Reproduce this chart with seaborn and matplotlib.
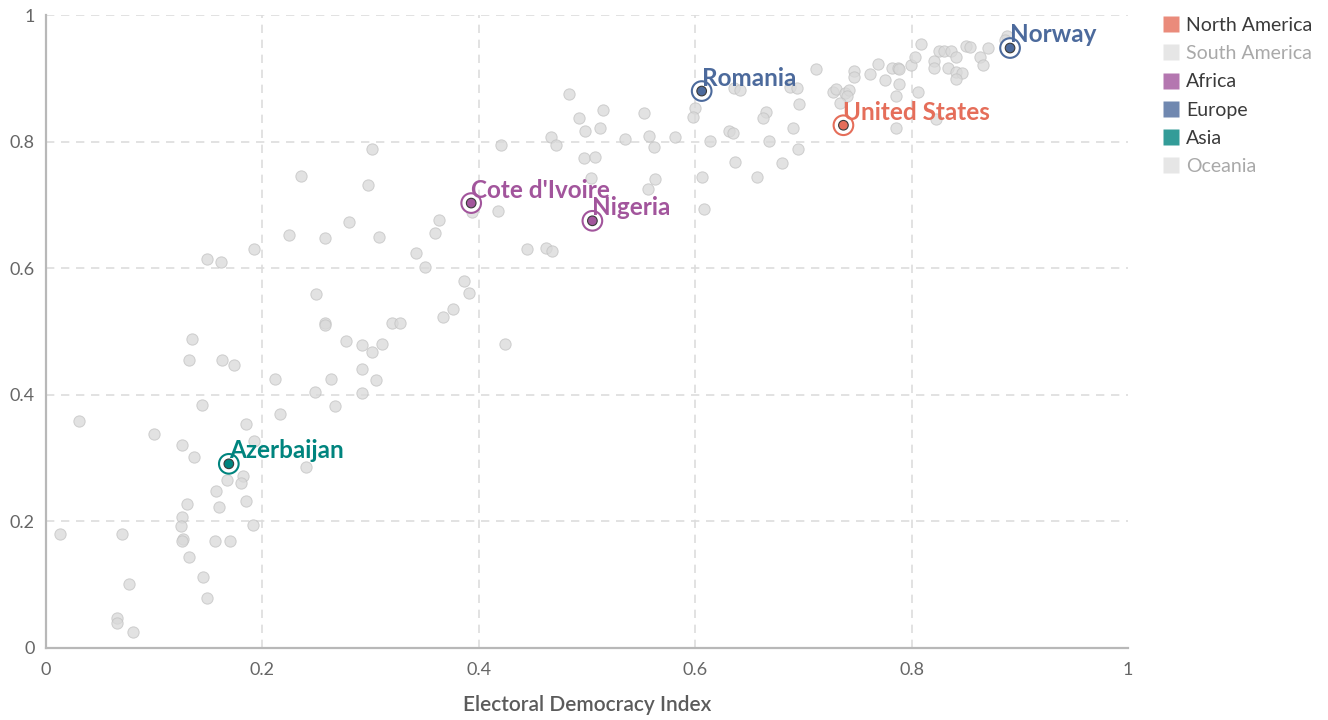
import matplotlib
matplotlib.use("Agg")
import matplotlib.pyplot as plt
from matplotlib.lines import Line2D
import pandas as pd
import seaborn as sns

# ── data ────────────────────────────────────────────────────
# x = Electoral Democracy Index, y = the other index (unlabelled axis)
grey_x = [
    0.013, 0.031, 0.066, 0.066, 0.070, 0.077, 0.080, 0.100, 0.126, 0.137,
    0.144, 0.130, 0.126, 0.125, 0.127, 0.126, 0.132, 0.145, 0.149, 0.156,
    0.170, 0.160, 0.157, 0.167, 0.182, 0.180, 0.185, 0.191, 0.185, 0.216,
    0.240, 0.249, 0.212, 0.263, 0.267, 0.292, 0.292, 0.305, 0.135, 0.132,
    0.163, 0.174, 0.277, 0.292, 0.301, 0.311, 0.250, 0.258, 0.258, 0.320,
    0.327, 0.192, 0.149, 0.162, 0.225, 0.258, 0.308, 0.280, 0.236, 0.298,
    0.301, 0.342, 0.350, 0.360, 0.363, 0.367, 0.376, 0.386, 0.391, 0.424,
    0.445, 0.462, 0.468, 0.394, 0.418, 0.421, 0.467, 0.471, 0.483, 0.493,
    0.498, 0.512, 0.515, 0.497, 0.507, 0.504, 0.535, 0.557, 0.562, 0.581,
    0.553, 0.563, 0.556, 0.600, 0.598, 0.606, 0.608, 0.614, 0.631, 0.635,
    0.637, 0.636, 0.641, 0.665, 0.663, 0.668, 0.657, 0.680, 0.690, 0.695,
    0.688, 0.694, 0.696, 0.712, 0.727, 0.730, 0.738, 0.742, 0.740, 0.734,
    0.747, 0.747, 0.762, 0.769, 0.775, 0.782, 0.787, 0.788, 0.788, 0.786,
    0.786, 0.799, 0.803, 0.806, 0.809, 0.823, 0.821, 0.821, 0.825, 0.830,
    0.836, 0.834, 0.841, 0.841, 0.847, 0.841, 0.850, 0.854, 0.863, 0.866,
    0.871, 0.888, 0.886, 0.192,
]
grey_y = [
    0.180, 0.359, 0.047, 0.039, 0.180, 0.101, 0.025, 0.338, 0.321, 0.302,
    0.384, 0.227, 0.207, 0.193, 0.172, 0.169, 0.144, 0.112, 0.079, 0.169,
    0.169, 0.223, 0.248, 0.265, 0.272, 0.261, 0.232, 0.194, 0.354, 0.370,
    0.286, 0.404, 0.425, 0.425, 0.382, 0.403, 0.441, 0.423, 0.488, 0.455,
    0.455, 0.447, 0.485, 0.479, 0.468, 0.480, 0.559, 0.513, 0.510, 0.513,
    0.513, 0.630, 0.615, 0.610, 0.652, 0.648, 0.649, 0.673, 0.746, 0.731,
    0.788, 0.624, 0.602, 0.656, 0.676, 0.523, 0.536, 0.580, 0.561, 0.480,
    0.630, 0.632, 0.627, 0.689, 0.690, 0.795, 0.807, 0.795, 0.875, 0.837,
    0.817, 0.821, 0.850, 0.774, 0.776, 0.742, 0.804, 0.809, 0.791, 0.807,
    0.845, 0.741, 0.725, 0.853, 0.839, 0.744, 0.694, 0.801, 0.817, 0.814,
    0.768, 0.885, 0.882, 0.847, 0.837, 0.801, 0.744, 0.766, 0.821, 0.788,
    0.886, 0.885, 0.859, 0.915, 0.878, 0.883, 0.877, 0.882, 0.872, 0.861,
    0.912, 0.902, 0.907, 0.923, 0.897, 0.916, 0.916, 0.915, 0.891, 0.872,
    0.821, 0.921, 0.934, 0.878, 0.954, 0.836, 0.927, 0.916, 0.943, 0.943,
    0.943, 0.916, 0.934, 0.910, 0.908, 0.899, 0.951, 0.949, 0.934, 0.921,
    0.948, 0.967, 0.961, 0.327,
]

hl_names = ["Norway", "Romania", "United States", "Cote d'Ivoire", "Nigeria", "Azerbaijan"]
hl_continent = ["Europe", "Europe", "North America", "Africa", "Africa", "Asia"]
hl_x = [0.891, 0.606, 0.737, 0.393, 0.505, 0.169]
hl_y = [0.948, 0.880, 0.826, 0.703, 0.675, 0.291]

continents = ["North America", "South America", "Africa", "Europe", "Asia", "Oceania"]
continent_active = [True, False, True, True, True, False]
palette = {
    "North America": "#E56E5A",
    "South America": "#9A5129",
    "Africa": "#A2559C",
    "Europe": "#4C6A9C",
    "Asia": "#00847E",
    "Oceania": "#B13507",
}

xticks = [0, 0.2, 0.4, 0.6, 0.8, 1]
xtick_labels = ["0", "0.2", "0.4", "0.6", "0.8", "1"]
yticks = [0, 0.2, 0.4, 0.6, 0.8, 1]
ytick_labels = ["0", "0.2", "0.4", "0.6", "0.8", "1"]

grey_df = pd.DataFrame({"edi": grey_x, "val": grey_y})
hl_df = pd.DataFrame({"name": hl_names, "continent": hl_continent, "edi": hl_x, "val": hl_y})

# ── style ───────────────────────────────────────────────────
sns.set_style("white")
plt.rcParams["font.family"] = ["Lato", "DejaVu Sans"]

fig = plt.figure(figsize=(13.28, 7.2), dpi=100)
ax = fig.add_axes([0.0346, 0.1, 0.8148, 0.879])

# background countries
sns.scatterplot(data=grey_df, x="edi", y="val", ax=ax, s=66,
                color="#d9d9d9", edgecolor="#c2c2c2", linewidth=0.7,
                alpha=0.75, legend=False, zorder=3)

# highlighted countries: ring + dot
sns.scatterplot(data=hl_df, x="edi", y="val", hue="continent", palette=palette,
                ax=ax, s=200, marker="o", linewidth=1.5,
                legend=False, zorder=4)
# seaborn fills the markers, turn this layer into open rings
ring = ax.collections[-1]
ring.set_facecolor("white")
ring.set_edgecolor([palette[c] for c in hl_continent])
sns.scatterplot(data=hl_df, x="edi", y="val", hue="continent", palette=palette,
                ax=ax, s=48, edgecolor="#3a3a3a", linewidth=0.8,
                legend=False, zorder=5)

for name, cont, x, y in zip(hl_names, hl_continent, hl_x, hl_y):
    ax.annotate(name, (x, y), xytext=(0, 4), textcoords="offset points",
                ha="left", va="baseline", fontsize=17.5, fontweight="bold",
                color=palette[cont], zorder=6)

# axes
ax.set_xlim(0, 1)
ax.set_ylim(0, 1)
ax.set_xticks(xticks, xtick_labels)
ax.set_yticks(yticks, ytick_labels)
ax.tick_params(axis="both", length=0, labelsize=13, labelcolor="#666666")
ax.tick_params(axis="x", pad=10)
ax.tick_params(axis="y", pad=8)
ax.grid(True, color="#dddddd", linestyle=(0, (5, 4)), linewidth=1.2)
ax.xaxis.get_gridlines()[-1].set_visible(False)
ax.set_axisbelow(True)
for side in ["top", "right"]:
    ax.spines[side].set_visible(False)
for side in ["left", "bottom"]:
    ax.spines[side].set_color("#b8b8b8")
    ax.spines[side].set_linewidth(1.6)
ax.set_xlabel("Electoral Democracy Index", fontsize=15, fontweight="semibold",
              color="#5b5b5b", labelpad=12)
ax.set_ylabel("")

# legend
handles = [
    Line2D([], [], marker="s", linestyle="none", markersize=11,
           markerfacecolor=palette[c] if on else "#e6e6e6",
           markeredgecolor="none", alpha=0.8 if on else 1.0)
    for c, on in zip(continents, continent_active)
]
leg = fig.legend(handles, continents, loc="upper left",
                 bbox_to_anchor=(1155 / 1328, 1 - 9 / 720), frameon=False,
                 fontsize=14, handlelength=0.8, handletextpad=0.4,
                 labelspacing=0.58, borderaxespad=0)
for txt, on in zip(leg.get_texts(), continent_active):
    txt.set_color("#3a3a3a" if on else "#a9a9a9")

fig.savefig("out.png", dpi=100)
